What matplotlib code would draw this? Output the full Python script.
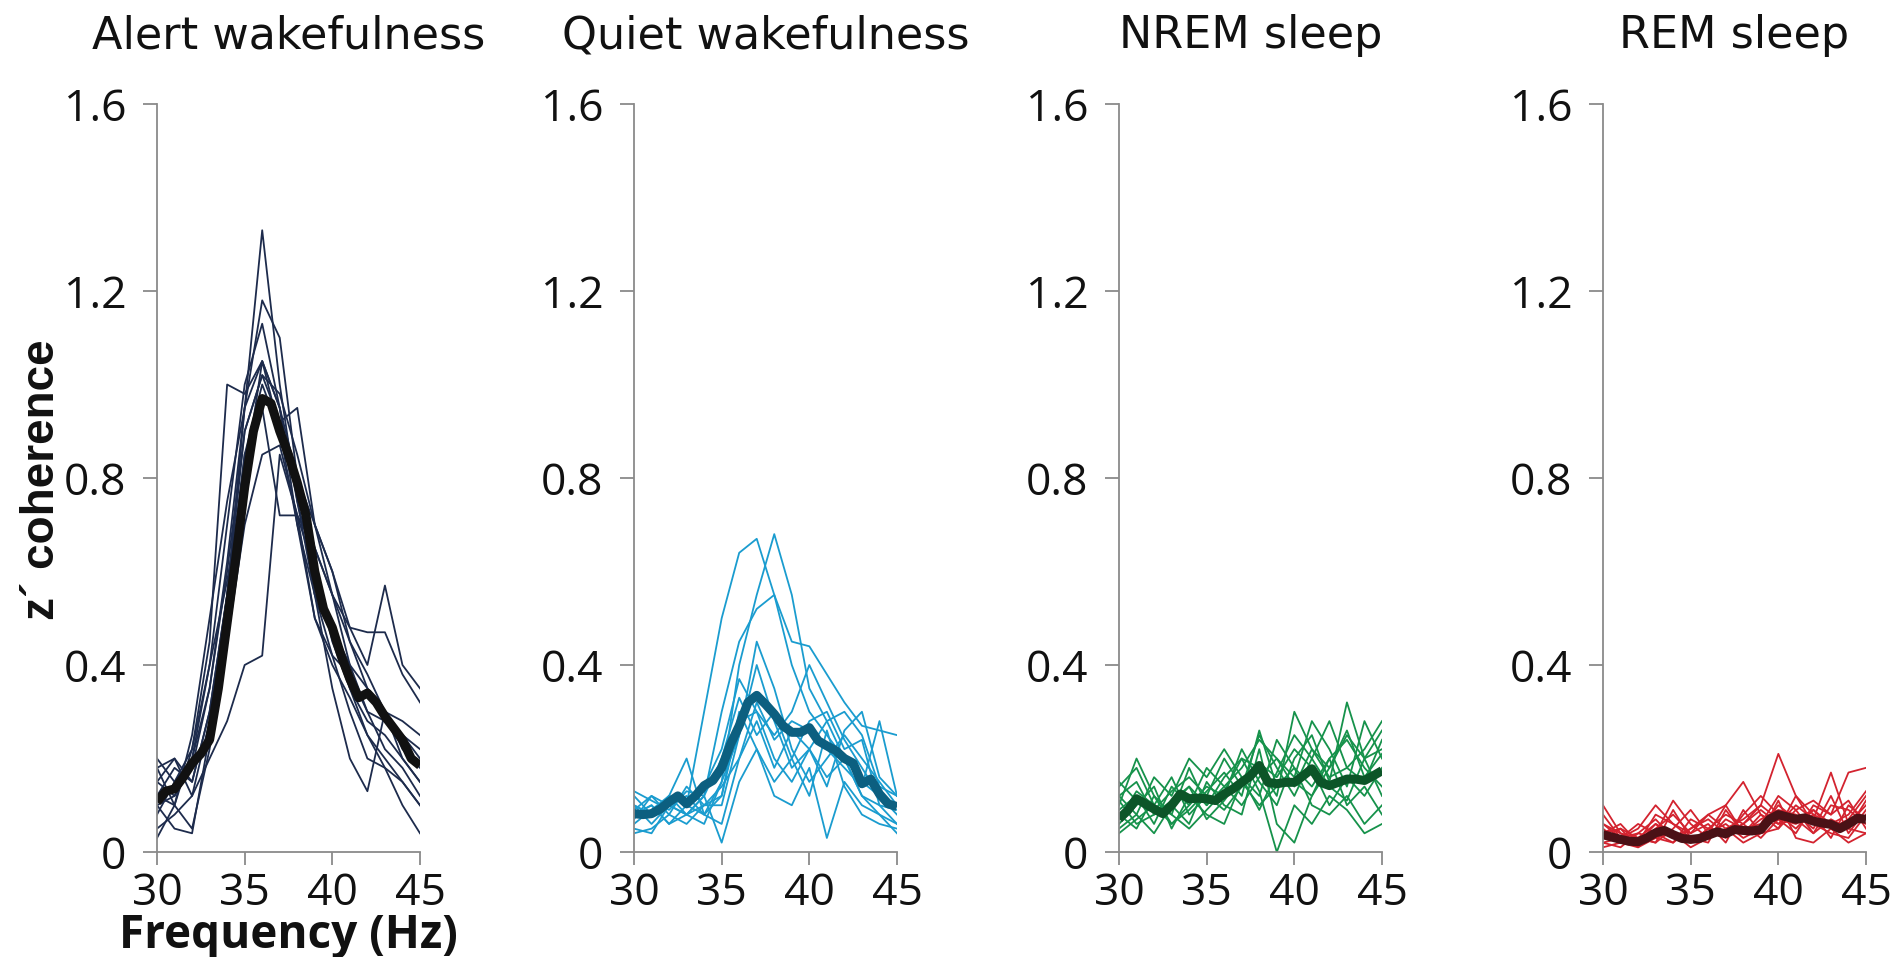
import numpy as np
import matplotlib
import matplotlib.pyplot as plt

matplotlib.use("Agg")

# frequency grids (Hz): individual recordings sampled every 1 Hz, group mean every 0.5 Hz
freq_single = np.arange(30, 46, 1.0)
freq_mean = np.arange(30, 45.5, 0.5)

titles = ["Alert wakefulness", "Quiet wakefulness", "NREM sleep", "REM sleep"]

# --- Alert wakefulness ---
alert_single = [
    [0.15, 0.12, 0.20, 0.35, 0.62, 0.95, 1.33, 1.00, 0.75, 0.60, 0.45, 0.35, 0.28, 0.25, 0.20, 0.15],
    [0.18, 0.10, 0.22, 0.45, 1.00, 0.98, 1.05, 0.95, 0.80, 0.70, 0.55, 0.40, 0.30, 0.28, 0.25, 0.20],
    [0.12, 0.18, 0.15, 0.30, 0.55, 0.95, 1.18, 1.10, 0.80, 0.55, 0.42, 0.38, 0.30, 0.22, 0.18, 0.12],
    [0.08, 0.15, 0.20, 0.40, 0.70, 1.00, 1.13, 0.95, 0.70, 0.55, 0.48, 0.40, 0.35, 0.30, 0.22, 0.18],
    [0.10, 0.12, 0.18, 0.35, 0.60, 0.90, 1.02, 0.92, 0.95, 0.70, 0.60, 0.45, 0.35, 0.30, 0.25, 0.22],
    [0.20, 0.15, 0.22, 0.40, 0.58, 0.80, 1.05, 0.90, 0.80, 0.65, 0.55, 0.48, 0.40, 0.57, 0.40, 0.35],
    [0.05, 0.08, 0.12, 0.20, 0.28, 0.40, 0.42, 0.85, 0.72, 0.50, 0.42, 0.30, 0.20, 0.18, 0.15, 0.10],
    [0.10, 0.05, 0.04, 0.25, 0.45, 0.70, 0.85, 0.87, 0.72, 0.60, 0.48, 0.35, 0.25, 0.20, 0.15, 0.10],
    [0.15, 0.20, 0.15, 0.30, 0.55, 0.85, 0.95, 0.72, 0.72, 0.65, 0.55, 0.45, 0.38, 0.30, 0.28, 0.25],
    [0.12, 0.10, 0.25, 0.50, 0.75, 0.95, 1.05, 0.95, 0.75, 0.55, 0.35, 0.20, 0.13, 0.30, 0.20, 0.15],
    [0.03, 0.10, 0.05, 0.22, 0.50, 0.85, 1.00, 0.90, 0.70, 0.50, 0.40, 0.33, 0.25, 0.18, 0.10, 0.04],
    [0.18, 0.20, 0.12, 0.28, 0.55, 0.90, 1.02, 0.98, 0.85, 0.70, 0.60, 0.48, 0.47, 0.47, 0.38, 0.32],
]
alert_mean = [0.107, 0.13, 0.135, 0.16, 0.19, 0.21, 0.24, 0.35, 0.49, 0.63, 0.78, 0.90, 0.97, 0.96,
              0.90, 0.85, 0.79, 0.72, 0.60, 0.52, 0.48, 0.42, 0.37, 0.33, 0.34, 0.32, 0.29, 0.265,
              0.24, 0.20, 0.185]

# --- Quiet wakefulness ---
quiet_single = [
    [0.10, 0.08, 0.12, 0.10, 0.30, 0.50, 0.64, 0.67, 0.55, 0.45, 0.44, 0.38, 0.32, 0.27, 0.26, 0.25],
    [0.08, 0.10, 0.06, 0.08, 0.06, 0.15, 0.40, 0.55, 0.68, 0.55, 0.35, 0.28, 0.20, 0.12, 0.10, 0.06],
    [0.07, 0.12, 0.10, 0.08, 0.12, 0.30, 0.45, 0.52, 0.55, 0.40, 0.30, 0.25, 0.20, 0.15, 0.12, 0.10],
    [0.12, 0.08, 0.12, 0.10, 0.08, 0.15, 0.25, 0.45, 0.35, 0.22, 0.15, 0.20, 0.25, 0.20, 0.15, 0.10],
    [0.10, 0.06, 0.10, 0.12, 0.08, 0.12, 0.28, 0.30, 0.25, 0.30, 0.40, 0.32, 0.24, 0.18, 0.12, 0.08],
    [0.08, 0.10, 0.06, 0.10, 0.14, 0.22, 0.37, 0.30, 0.20, 0.15, 0.22, 0.28, 0.30, 0.25, 0.14, 0.12],
    [0.06, 0.09, 0.12, 0.08, 0.10, 0.10, 0.25, 0.40, 0.28, 0.18, 0.22, 0.16, 0.20, 0.12, 0.08, 0.06],
    [0.05, 0.04, 0.10, 0.08, 0.12, 0.02, 0.15, 0.22, 0.12, 0.10, 0.18, 0.03, 0.15, 0.10, 0.08, 0.04],
    [0.10, 0.08, 0.12, 0.20, 0.08, 0.06, 0.20, 0.28, 0.18, 0.26, 0.22, 0.14, 0.26, 0.30, 0.16, 0.12],
    [0.09, 0.12, 0.08, 0.14, 0.10, 0.14, 0.20, 0.32, 0.24, 0.28, 0.26, 0.22, 0.18, 0.14, 0.28, 0.12],
    [0.04, 0.05, 0.08, 0.06, 0.10, 0.12, 0.30, 0.22, 0.15, 0.20, 0.12, 0.26, 0.14, 0.08, 0.06, 0.05],
    [0.13, 0.11, 0.09, 0.13, 0.12, 0.20, 0.33, 0.25, 0.30, 0.20, 0.28, 0.30, 0.22, 0.24, 0.10, 0.09],
]
quiet_mean = [0.082, 0.08, 0.082, 0.092, 0.107, 0.12, 0.103, 0.12, 0.142, 0.153, 0.18, 0.23, 0.27,
              0.32, 0.335, 0.316, 0.295, 0.27, 0.256, 0.256, 0.266, 0.238, 0.227, 0.217, 0.20,
              0.19, 0.146, 0.156, 0.124, 0.103, 0.097]

# --- NREM sleep ---
nrem_single = [
    [0.12, 0.15, 0.08, 0.10, 0.14, 0.10, 0.16, 0.20, 0.18, 0.12, 0.30, 0.22, 0.18, 0.25, 0.20, 0.22],
    [0.08, 0.05, 0.12, 0.06, 0.10, 0.14, 0.12, 0.22, 0.15, 0.10, 0.20, 0.25, 0.15, 0.32, 0.20, 0.26],
    [0.14, 0.18, 0.10, 0.16, 0.08, 0.12, 0.20, 0.14, 0.25, 0.18, 0.12, 0.20, 0.28, 0.18, 0.15, 0.24],
    [0.05, 0.08, 0.04, 0.10, 0.06, 0.15, 0.10, 0.08, 0.22, 0.06, 0.02, 0.12, 0.20, 0.10, 0.14, 0.08],
    [0.10, 0.20, 0.12, 0.08, 0.18, 0.10, 0.14, 0.18, 0.24, 0.20, 0.16, 0.28, 0.22, 0.14, 0.28, 0.20],
    [0.06, 0.10, 0.14, 0.05, 0.12, 0.08, 0.06, 0.15, 0.10, 0.14, 0.18, 0.10, 0.08, 0.12, 0.06, 0.10],
    [0.12, 0.08, 0.16, 0.12, 0.20, 0.16, 0.22, 0.16, 0.12, 0.24, 0.18, 0.14, 0.20, 0.24, 0.18, 0.14],
    [0.09, 0.12, 0.06, 0.14, 0.10, 0.18, 0.14, 0.10, 0.16, 0.20, 0.14, 0.22, 0.16, 0.18, 0.22, 0.28],
    [0.04, 0.07, 0.10, 0.08, 0.05, 0.09, 0.13, 0.20, 0.13, 0.00, 0.10, 0.06, 0.12, 0.09, 0.04, 0.06],
    [0.15, 0.11, 0.09, 0.13, 0.16, 0.12, 0.09, 0.14, 0.19, 0.16, 0.22, 0.18, 0.10, 0.16, 0.12, 0.18],
    [0.07, 0.13, 0.10, 0.06, 0.09, 0.13, 0.17, 0.12, 0.26, 0.14, 0.15, 0.12, 0.18, 0.26, 0.16, 0.21],
    [0.11, 0.06, 0.08, 0.11, 0.14, 0.07, 0.11, 0.16, 0.09, 0.17, 0.25, 0.20, 0.14, 0.11, 0.20, 0.12],
]
nrem_mean = [0.071, 0.089, 0.114, 0.103, 0.092, 0.082, 0.10, 0.124, 0.114, 0.115, 0.114, 0.11,
             0.124, 0.135, 0.149, 0.163, 0.185, 0.149, 0.146, 0.149, 0.149, 0.163, 0.178, 0.149,
             0.142, 0.149, 0.156, 0.156, 0.153, 0.163, 0.174]

# --- REM sleep ---
rem_single = [
    [0.10, 0.04, 0.02, 0.06, 0.04, 0.02, 0.05, 0.08, 0.06, 0.10, 0.21, 0.12, 0.08, 0.06, 0.05, 0.04],
    [0.06, 0.03, 0.05, 0.10, 0.06, 0.04, 0.08, 0.10, 0.15, 0.08, 0.06, 0.10, 0.07, 0.17, 0.06, 0.10],
    [0.04, 0.06, 0.02, 0.04, 0.11, 0.06, 0.03, 0.07, 0.05, 0.06, 0.12, 0.09, 0.11, 0.08, 0.17, 0.18],
    [0.02, 0.01, 0.04, 0.07, 0.03, 0.02, 0.05, 0.03, 0.08, 0.12, 0.08, 0.05, 0.09, 0.05, 0.07, 0.12],
    [0.05, 0.02, 0.03, 0.02, 0.05, 0.09, 0.04, 0.06, 0.03, 0.05, 0.10, 0.07, 0.04, 0.10, 0.09, 0.06],
    [0.03, 0.05, 0.01, 0.05, 0.08, 0.04, 0.06, 0.02, 0.09, 0.04, 0.05, 0.12, 0.06, 0.04, 0.03, 0.08],
    [0.08, 0.03, 0.04, 0.03, 0.02, 0.05, 0.08, 0.05, 0.07, 0.10, 0.07, 0.04, 0.10, 0.08, 0.11, 0.05],
    [0.04, 0.02, 0.02, 0.08, 0.06, 0.03, 0.02, 0.09, 0.04, 0.07, 0.09, 0.08, 0.05, 0.12, 0.04, 0.09],
    [0.02, 0.03, 0.06, 0.04, 0.02, 0.07, 0.05, 0.04, 0.06, 0.03, 0.07, 0.06, 0.08, 0.03, 0.10, 0.07],
    [0.06, 0.04, 0.03, 0.02, 0.09, 0.03, 0.04, 0.10, 0.04, 0.08, 0.05, 0.09, 0.04, 0.07, 0.05, 0.11],
    [0.01, 0.02, 0.01, 0.03, 0.04, 0.01, 0.03, 0.05, 0.02, 0.04, 0.11, 0.03, 0.02, 0.05, 0.02, 0.04],
    [0.04, 0.05, 0.03, 0.06, 0.03, 0.05, 0.07, 0.04, 0.06, 0.09, 0.06, 0.07, 0.09, 0.06, 0.08, 0.13],
]
rem_mean = [0.037, 0.032, 0.027, 0.023, 0.022, 0.030, 0.041, 0.046, 0.037, 0.029, 0.027, 0.029,
            0.036, 0.043, 0.039, 0.048, 0.046, 0.045, 0.048, 0.070, 0.080, 0.075, 0.070, 0.073,
            0.066, 0.062, 0.059, 0.050, 0.060, 0.072, 0.070]

singles = [alert_single, quiet_single, nrem_single, rem_single]
means = [alert_mean, quiet_mean, nrem_mean, rem_mean]
thin_colors = ["#1d2b4c", "#1a9ccf", "#16924b", "#d3232f"]
mean_colors = ["#111111", "#0c5f80", "#0c5528", "#4a1116"]

y_ticks = [0, 0.4, 0.8, 1.2, 1.6]
y_ticklabels = ["0", "0.4", "0.8", "1.2", "1.6"]
x_ticks = [30, 35, 40, 45]

W, H = 1895, 957
fig = plt.figure(figsize=(W / 100, H / 100), dpi=100)
tick_font = "Open Sans"
title_font = "DejaVu Sans"
lefts = [157, 634, 1119, 1603]

for i in range(4):
    ax = fig.add_axes([lefts[i] / W, 105 / H, 263 / W, 748 / H])
    for row in singles[i]:
        ax.plot(freq_single, row, color=thin_colors[i], lw=1.3, solid_joinstyle="round")
    ax.plot(freq_mean, means[i], color=mean_colors[i], lw=6.5,
            solid_joinstyle="round", solid_capstyle="butt")

    ax.set_xlim(30, 45)
    ax.set_ylim(0, 1.6)
    ax.set_xticks(x_ticks)
    ax.set_yticks(y_ticks)
    ax.set_yticklabels(y_ticklabels)
    for s in ["top", "right"]:
        ax.spines[s].set_visible(False)
    for s in ["left", "bottom"]:
        ax.spines[s].set_color("#8a8a8a")
        ax.spines[s].set_linewidth(1.3)
    ax.tick_params(axis="y", direction="out", length=10, width=1.3, color="#8a8a8a", pad=12)
    ax.tick_params(axis="x", direction="out", length=9, width=1.3, color="#8a8a8a", pad=5)
    for lab in ax.get_xticklabels() + ax.get_yticklabels():
        lab.set_fontfamily(tick_font)
        lab.set_fontsize(32)
        lab.set_color("#111111")
    ax.set_title(titles[i], fontsize=32, family=title_font, color="#111111", pad=40)

fig.text(288 / W, 9 / H, "Frequency (Hz)", ha="center", va="baseline",
         fontsize=33, fontweight="bold", family=tick_font, color="#111111")
fig.text(42 / W, 477 / H, "z\u00b4 coherence", ha="center", va="center", rotation=90,
         fontsize=33, fontweight="bold", family=["Liberation Sans", "DejaVu Sans"],
         color="#111111")

fig.savefig("out.png", dpi=100, facecolor="white")
